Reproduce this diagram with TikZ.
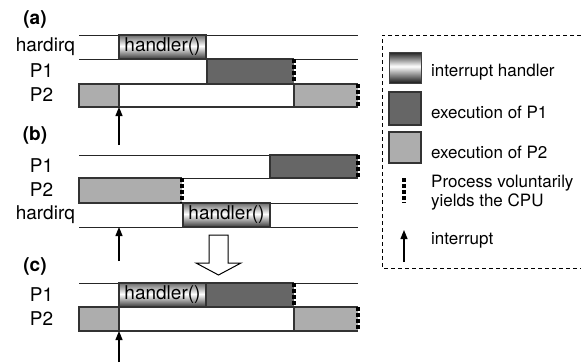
\documentclass[tikz,border=0pt]{standalone}
\usepackage{fontspec}
\setmainfont{TeX Gyre Heros}
\usetikzlibrary{arrows.meta}

% handler shading: dark rims, white core (colours listed bottom to top)
\pgfdeclareverticalshading{irqshade}{100bp}{color(0bp)=(black!78); color(25bp)=(black!78); color(52bp)=(white); color(75bp)=(black!58); color(100bp)=(black!58)}
\pgfdeclareverticalshading{irqkey}{100bp}{color(0bp)=(black!90); color(25bp)=(black!90); color(52bp)=(white); color(75bp)=(black!88); color(100bp)=(black!88)}

\tikzset{
  rowline/.style={line width=1pt, black!85},
  boxedge/.style={line width=1.1pt, draw=black!80},
  p1fill/.style={fill=black!60},
  p2fill/.style={fill=black!32},
  yieldmark/.style={line width=3.2pt, dash pattern=on 3.5pt off 2.6pt, black},
  irqbox/.style={shading=irqshade, draw=black!80, line width=1.1pt},
  lbl/.style={font=\fontsize{19}{22}\selectfont, inner sep=0pt},
  tag/.style={font=\bfseries\fontsize{19}{22}\selectfont, inner sep=0pt},
  keytext/.style={font=\fontsize{17}{20}\selectfont, anchor=west, inner sep=0pt},
  intarrow/.style={line width=1.2pt, -{Triangle[length=9pt,width=7pt]}},
  keyframe/.style={line width=0.9pt, dash pattern=on 4pt off 3pt},
}

% filled slot with solid left/top/bottom sides and a dotted (yield) right side
\newcommand\runslot[5]{%
  \fill[#5] (#1,#2) rectangle (#3,#4);
  \draw[boxedge] (#3,#2) -- (#1,#2) -- (#1,#4) -- (#3,#4);
  \draw[yieldmark] (#3,#2) -- (#3,#4);}

\begin{document}
\begin{tikzpicture}[x=1pt,y=-1pt]
\useasboundingbox (0,0) rectangle (581,362);

% ---------------- (a) ----------------
\node[tag] (taga) at (35,19) {(a)};
\draw[rowline] (79,35) -- (358,35);
\draw[rowline] (79,59) -- (358,59);
\draw[rowline] (79,84) -- (358,84);
\draw[rowline] (79,107) -- (358,107);
\path[irqbox] (119,35) rectangle (206,59);
\node[lbl] (ha) at (162.5,47) {handler()};
\runslot{207}{59}{294}{84}{p1fill}
\draw[boxedge, p2fill] (79,84) rectangle (119,107);
\draw[boxedge] (119,84) rectangle (294,107);
\runslot{294}{84}{358}{107}{p2fill}
\node[lbl, anchor=east] (irqa) at (75,47) {hardirq};
\node[lbl] (p1a) at (41.5,71) {P1};
\node[lbl] (p2a) at (41.5,95) {P2};
\coordinate (inta0) at (119,145);
\coordinate (inta1) at (119,107);
\draw[intarrow] (inta0) -- (inta1);

% ---------------- (b) ----------------
\node[tag] (tagb) at (35,135) {(b)};
\draw[rowline] (79,155) -- (358,155);
\draw[rowline] (79,178) -- (358,178);
\draw[rowline] (79,203) -- (358,203);
\draw[rowline] (79,227) -- (358,227);
\runslot{270}{155}{358}{178}{p1fill}
\runslot{79}{178}{182}{203}{p2fill}
\path[irqbox] (183,203) rectangle (270,227);
\node[lbl] (hb) at (226.5,215) {handler()};
\node[lbl] (p1b) at (41.5,166) {P1};
\node[lbl] (p2b) at (41.5,190) {P2};
\node[lbl, anchor=east] (irqb) at (75,215) {hardirq};
\coordinate (intb0) at (119,261);
\coordinate (intb1) at (119,227);
\draw[intarrow] (intb0) -- (intb1);

% hollow block arrow from (b) to (c)
\draw[line width=1pt, fill=white] (209,235) -- (228,235) -- (228,263) -- (241,263)
  -- (218.5,275) -- (196,263) -- (209,263) -- cycle;

% ---------------- (c) ----------------
\node[tag] (tagc) at (35,266) {(c)};
\draw[rowline] (79,283) -- (358,283);
\draw[rowline] (79,307) -- (358,307);
\draw[rowline] (79,331) -- (358,331);
\path[irqbox] (119,283) rectangle (206,307);
\node[lbl] (hc) at (162.5,295) {handler()};
\runslot{206}{283}{294}{307}{p1fill}
\draw[boxedge, p2fill] (79,307) rectangle (119,331);
\draw[boxedge] (119,307) rectangle (294,331);
\runslot{294}{307}{358}{331}{p2fill}
\node[lbl] (p1c) at (41.5,295) {P1};
\node[lbl] (p2c) at (41.5,319) {P2};
\coordinate (intc0) at (119,362);
\coordinate (intc1) at (119,331);
\draw[intarrow] (intc0) -- (intc1);

% ---------------- legend ----------------
\draw[keyframe] (581,35) -- (382,35) -- (382,268) -- (581,268);
\path[shading=irqkey, draw=black!75, line width=1pt] (389,52) rectangle (421,83);
\draw[boxedge, p1fill] (389,92) rectangle (421,125);
\draw[boxedge, p2fill] (389,132) rectangle (421,163);
\draw[yieldmark] (404,178) -- (404,203);
\coordinate (keyint0) at (404,262);
\coordinate (keyint1) at (404,230);
\draw[intarrow] (keyint0) -- (keyint1);
\node[keytext] (k1) at (431,72) {interrupt handler};
\node[keytext] (k2) at (431,112) {execution of P1};
\node[keytext] (k3) at (431,152) {execution of P2};
\node[keytext] (k4) at (431,183) {Process voluntarily};
\node[keytext] (k5) at (431,202) {yields the CPU};
\node[keytext] (k6) at (431,240) {interrupt};
\end{tikzpicture}
\end{document}
